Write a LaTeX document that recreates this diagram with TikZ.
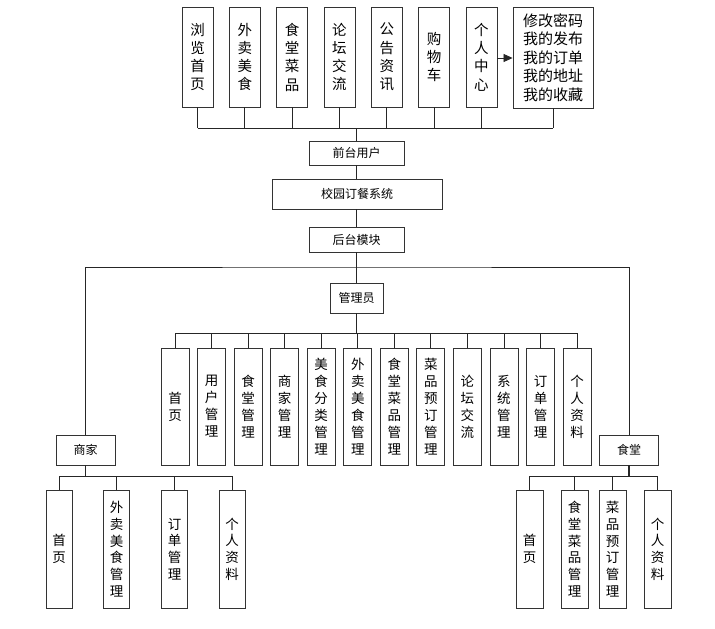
\documentclass[tikz,border=0pt]{standalone}
\usepackage{fontspec}
\setmainfont{Noto Sans CJK SC}
\usetikzlibrary{arrows.meta}
\begin{document}
\begin{tikzpicture}[x=1pt,y=-1pt,
  box/.style={draw=black!80, line width=0.9pt, fill=white, inner sep=0pt, align=center},
  topv/.style={box, minimum width=31pt, minimum height=100pt, font=\fontsize{14.5}{18.3}\selectfont},
  admv/.style={box, minimum width=28pt, minimum height=117pt, font=\fontsize{13.5}{17}\selectfont},
  subv/.style={box, minimum width=27pt, minimum height=118pt, font=\fontsize{13.5}{16.7}\selectfont},
  hbox/.style={box, font=\fontsize{12}{14}\selectfont},
  link/.style={draw=black!85, line width=0.8pt}]
\useasboundingbox[fill=white] (0,0) rectangle (715,629);

% top row
\foreach \t [count=\i from 1] in {{浏\\览\\首\\页},{外\\卖\\美\\食},{食\\堂\\菜\\品},{论\\坛\\交\\流},{公\\告\\资\\讯},{购\\物\\车},{个\\人\\中\\心}}{
  \node[topv] (t\i) at ({197.5+47.33*(\i-1)},57) {\t};
}
\node[box, minimum width=80pt, minimum height=101pt, font=\fontsize{15}{18.5}\selectfont] (t8) at (553,57.5) {修改密码\\我的发布\\我的订单\\我的地址\\我的收藏};
\draw[link, -{Triangle[length=9pt,width=8pt]}] (t7.east |- 0,58) -- (t8.west |- 0,58);

\coordinate (topbus) at (356.5,128);
\foreach \i in {1,...,8}{ \draw[link] (t\i.south) -- (t\i.south |- topbus); }
\draw[link] (t1.south |- topbus) -- (t8.south |- topbus);

\node[hbox, minimum width=95pt, minimum height=24pt] (front) at (356.5,153) {前台用户};
\node[hbox, minimum width=170pt, minimum height=30pt] (sys) at (357,194) {校园订餐系统};
\node[hbox, minimum width=95pt, minimum height=25pt] (back) at (356.5,239.5) {后台模块};
\draw[link] (topbus) -- (front.north);
\draw[link] (front.south) -- (front.south |- sys.north);
\draw[link] (sys.south -| back.north) -- (back.north);

% second level
\node[hbox, minimum width=53pt, minimum height=30pt] (admin) at (356.5,298) {管理员};
\node[hbox, minimum width=59pt, minimum height=30pt] (merch) at (85.5,450) {商家};
\node[hbox, minimum width=59pt, minimum height=30pt] (cant) at (629,450) {食堂};
\coordinate (mbus) at (356.5,267);
\draw[link] (back.south) -- (admin.north);
\draw[link] (merch.north) |- (mbus) -| (cant.north);

% admin children
\coordinate (abus) at (356.5,333);
\draw[link, line width=1.3pt] (admin.south) -- (abus);
\foreach \t [count=\i from 0] in {{首\\页},{用\\户\\管\\理},{食\\堂\\管\\理},{商\\家\\管\\理},{美\\食\\分\\类\\管\\理},{外\\卖\\美\\食\\管\\理},{食\\堂\\菜\\品\\管\\理},{菜\\品\\预\\订\\管\\理},{论\\坛\\交\\流},{系\\统\\管\\理},{订\\单\\管\\理},{个\\人\\资\\料}}{
  \node[admv] (a\i) at ({175+36.55*\i},406.5) {\t};
  \draw[link] (a\i.north) -- (a\i.north |- abus);
}
\draw[link] (a0.north |- abus) -- (a11.north |- abus);

% merchant children
\coordinate (sbus) at (85.5,476);
\draw[link, line width=1.3pt] (merch.south) -- (sbus);
\node[subv, minimum width=26pt] (m1) at (59,549) {首\\页};
\node[subv, minimum width=26pt] (m2) at (116.5,549) {外\\卖\\美\\食\\管\\理};
\node[subv, minimum width=26pt] (m3) at (174.5,549) {订\\单\\管\\理};
\node[subv, minimum width=26pt] (m4) at (232,549) {个\\人\\资\\料};
\foreach \i in {1,...,4}{ \draw[link] (m\i.north) -- (m\i.north |- sbus); }
\draw[link] (m1.north |- sbus) -- (m4.north |- sbus);

% canteen children
\coordinate (cbus) at (629,476);
\draw[link, line width=1.3pt] (cant.south) -- (cbus);
\node[subv] (c1) at (529.5,549) {首\\页};
\node[subv] (c2) at (574.5,549) {食\\堂\\菜\\品\\管\\理};
\node[subv] (c3) at (612.5,549) {菜\\品\\预\\订\\管\\理};
\node[subv] (c4) at (657.5,549) {个\\人\\资\\料};
\foreach \i in {1,...,4}{ \draw[link] (c\i.north) -- (c\i.north |- cbus); }
\draw[link] (c1.north |- cbus) -- (c4.north |- cbus);
\end{tikzpicture}
\end{document}
